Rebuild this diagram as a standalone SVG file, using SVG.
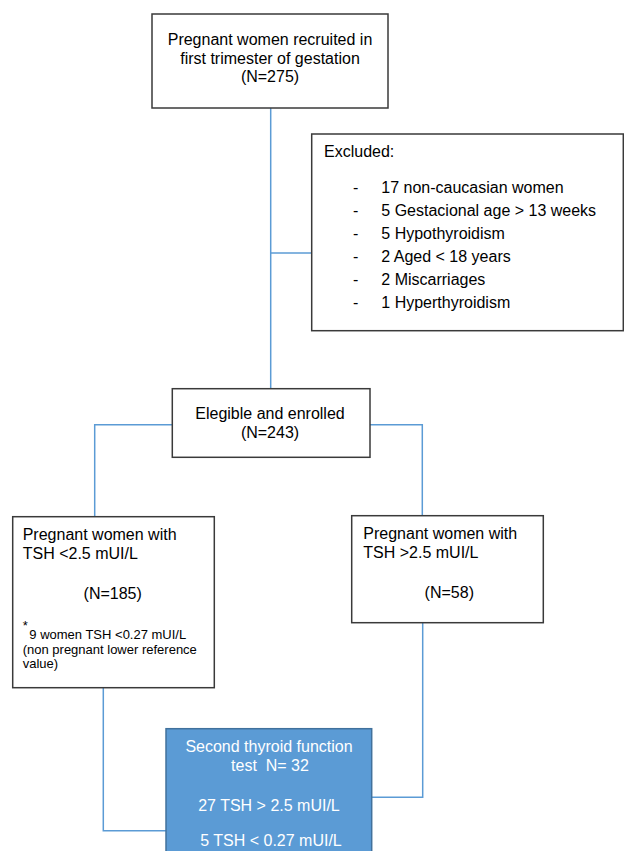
<svg xmlns="http://www.w3.org/2000/svg" width="624" height="851" viewBox="0 0 624 851">
<style>
.box{fill:#ffffff;stroke:#3a3a3a;stroke-width:1.5}
.blue{fill:#5b9bd5;stroke:#41719c;stroke-width:1.5}
.t{font-family:"Liberation Sans",Arial,sans-serif;font-size:16px;fill:#000}
.s{font-family:"Liberation Sans",Arial,sans-serif;font-size:13px;fill:#000}
.w{font-family:"Liberation Sans",Arial,sans-serif;font-size:16px;fill:#ffffff}
.c{text-anchor:middle}
.conn{fill:none;stroke:#5b9bd5;stroke-width:1.5}
</style>
<rect width="624" height="851" fill="#ffffff"/>
<g id="connectors">
<path class="conn" d="M270.7,108 V388.7"/>
<path class="conn" d="M270.7,253 H311.7"/>
<path class="conn" d="M172.3,424.7 H94.7 V516.7"/>
<path class="conn" d="M370,424.7 H422.3 V516"/>
<path class="conn" d="M103.3,687.7 V830.7 H166"/>
<path class="conn" d="M422.7,622.7 V797.3 H371.7"/>
</g>
<g id="recruited">
<rect class="box" x="152" y="14" width="236" height="94"/>
<text class="t c" x="270" y="44.5">Pregnant women recruited in</text>
<text class="t c" x="270" y="63.5">first trimester of gestation</text>
<text class="t c" x="270" y="82">(N=275)</text>
</g>
<g id="excluded">
<rect class="box" x="311.7" y="134" width="311.6" height="196.7"/>
<text class="t" x="324" y="157.3">Excluded:</text>
<text class="t" x="353"><tspan x="353" y="193.3">-</tspan><tspan x="353" y="216.3">-</tspan><tspan x="353" y="239.3">-</tspan><tspan x="353" y="262.3">-</tspan><tspan x="353" y="285.3">-</tspan><tspan x="353" y="308.3">-</tspan></text>
<text class="t" x="381.3" y="193.3">17 non-caucasian women</text>
<text class="t" x="381.3" y="216.3">5 Gestacional age &gt; 13 weeks</text>
<text class="t" x="381.3" y="239.3">5 Hypothyroidism</text>
<text class="t" x="381.3" y="262.3">2 Aged &lt; 18 years</text>
<text class="t" x="381.3" y="285.3">2 Miscarriages</text>
<text class="t" x="381.3" y="308.3">1 Hyperthyroidism</text>
</g>
<g id="enrolled">
<rect class="box" x="172.3" y="388.7" width="197.7" height="68.6"/>
<text class="t c" x="270" y="419">Elegible and enrolled</text>
<text class="t c" x="270" y="437.5">(N=243)</text>
</g>
<g id="low-tsh">
<rect class="box" x="12.7" y="516.7" width="201.6" height="171"/>
<text class="t" x="22.7" y="540">Pregnant women with</text>
<text class="t" x="22.7" y="559.3">TSH &lt;2.5 mUI/L</text>
<text class="t c" x="112.7" y="599.3">(N=185)</text>
<text class="s" x="22.7" y="630" font-size="9">*</text>
<text class="s" x="29.3" y="639.3">9 women TSH &lt;0.27 mUI/L</text>
<text class="s" x="22.7" y="654">(non pregnant lower reference</text>
<text class="s" x="22.7" y="668.3">value)</text>
</g>
<g id="high-tsh">
<rect class="box" x="351.7" y="515.7" width="191.6" height="107"/>
<text class="t" x="363.3" y="539">Pregnant women with</text>
<text class="t" x="363.3" y="558.3">TSH &gt;2.5 mUI/L</text>
<text class="t c" x="449.3" y="598.3">(N=58)</text>
</g>
<g id="second-test">
<rect class="blue" x="166" y="728.7" width="205.7" height="140"/>
<text class="w c" x="269" y="752">Second thyroid function</text>
<text class="w c" x="270" y="770.7" xml:space="preserve">test  N= 32</text>
<text class="w c" x="269" y="811">27 TSH &gt; 2.5 mUI/L</text>
<text class="w c" x="271" y="845.7">5 TSH &lt; 0.27 mUI/L</text>
</g>
</svg>
